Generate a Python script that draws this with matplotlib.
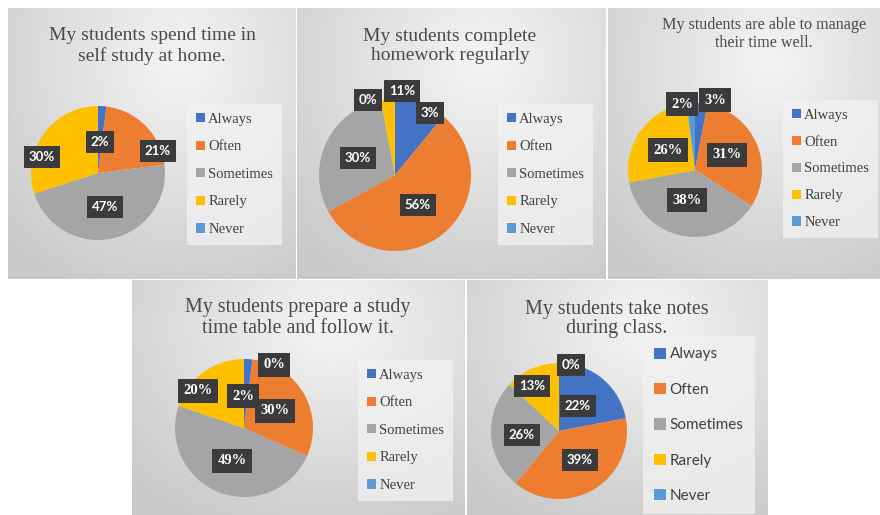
import numpy as np
import matplotlib.pyplot as plt
from matplotlib.patches import Patch

# image size in pixels (dpi 100)
W, H = 880, 515

# --- data ---
categories = ["Always", "Often", "Sometimes", "Rarely", "Never"]
colors = ["#4472C4", "#ED7D31", "#A5A5A5", "#FFC000", "#5B9BD5"]

titles = [
    "My students spend time in\nself study at home.",
    "My students complete\nhomework regularly",
    "My students are able to manage\ntheir time well.",
    "My students prepare a study\ntime table and follow it.",
    "My students take notes\nduring class.",
]

self_study = [2, 21, 47, 30, 0]
homework = [11, 56, 30, 3, 0]
time_manage = [3, 31, 38, 26, 2]
time_table = [2, 30, 49, 20, 0]
take_notes = [22, 39, 26, 13, 0]
series = [self_study, homework, time_manage, time_table, take_notes]

# --- layout (image pixels, y from top) ---
panel_boxes = [(8, 8, 296, 279), (297, 8, 606, 279), (608, 8, 880, 279),
               (132, 280, 465, 515), (467, 280, 768, 515)]
pie_centers = [(98, 173), (395, 175), (695, 170), (244, 428), (559, 431)]
pie_radii = [67, 76, 67, 69, 68]
title_pos = [(152, 46), (450, 46), (764, 34), (298, 318), (617, 319)]
title_sizes = [14, 14, 11.6, 14.4, 14.4]
title_spacing = [1.2, 1.2, 1.1, 1.15, 1.05]
legend_pos = [(187, 104), (498, 104), (783, 100), (358, 360), (643, 336)]
legend_font = ["Liberation Serif"] * 4 + ["Lato"]
legend_sizes = [10.5, 10.5, 10.5, 10.5, 11]
legend_spacing = [1.0, 1.0, 0.95, 1.0, 1.4]
legend_handle = [0.6, 0.6, 0.6, 0.6, 0.75]
legend_pad = [0.6, 0.6, 0.6, 0.6, 0.75]
label_font = ["Lato", "Lato", "Liberation Serif", "Liberation Serif", "Lato"]
label_sizes = [9.5, 9.5, 10.5, 10.5, 9.5]
# data label positions per category (None = not shown)
label_pos = [
    [(100, 142), (158, 151), (105, 207), (42, 157), None],
    [(402, 91), (418, 205), (358, 158), (430, 113), (368, 100)],
    [(715, 100), (727, 155), (687, 200), (668, 150), (682, 104)],
    [(243, 396), (275, 411), (232, 461), (198, 391), (274, 365)],
    [(578, 406), (580, 460), (522, 435), (532, 386), (571, 365)],
]


def gradient(w, h):
    yy, xx = np.mgrid[0:1:h * 1j, 0:1:w * 1j]
    d = np.sqrt(((xx - 0.6) / 0.85) ** 2 + ((yy - 0.2) / 0.95) ** 2)
    return 0.955 - 0.17 * np.clip(d, 0, 1)


fig = plt.figure(figsize=(W / 100, H / 100), dpi=100)
fig.patch.set_facecolor("white")
ax = fig.add_axes([0, 0, 1, 1])

for i in range(5):
    x0, y0, x1, y1 = panel_boxes[i]
    ax.imshow(gradient(x1 - x0, y1 - y0), cmap="gray", vmin=0, vmax=1,
              extent=(x0, x1, H - y1, H - y0), zorder=0, interpolation="bilinear")

    cx, cy = pie_centers[i]
    wedges, _ = ax.pie(series[i], colors=colors, startangle=90, counterclock=False,
                       center=(cx, H - cy), radius=pie_radii[i], frame=True,
                       wedgeprops=dict(linewidth=0))
    for w in wedges:
        w.set_zorder(2)

    tx, ty = title_pos[i]
    ax.text(tx, H - ty, titles[i], ha="center", va="center", fontsize=title_sizes[i],
            family="Liberation Serif", color="#4a4a4a", linespacing=title_spacing[i],
            zorder=5)

    for k, pos in enumerate(label_pos[i]):
        if pos is None:
            continue
        ax.text(pos[0], H - pos[1], f"{series[i][k]}%", ha="center", va="center",
                color="white", fontweight="bold", family=label_font[i],
                fontsize=label_sizes[i], zorder=6,
                bbox=dict(boxstyle="square,pad=0.35", fc="#3b3b3b", ec="none"))

    lx, ly = legend_pos[i]
    handles = [Patch(facecolor=c, edgecolor="none") for c in colors]
    leg = fig.legend(handles=handles, labels=categories, loc="upper left",
                     bbox_to_anchor=(lx / W, 1 - ly / H), borderaxespad=0,
                     frameon=True, fancybox=False, facecolor="#f2f2f2", edgecolor="none",
                     framealpha=0.75, handlelength=legend_handle[i],
                     handleheight=legend_handle[i], handletextpad=0.25,
                     labelspacing=legend_spacing[i], borderpad=legend_pad[i],
                     prop=dict(family=legend_font[i], size=legend_sizes[i]))
    for t in leg.get_texts():
        t.set_color("#404040")

ax.set_xlim(0, W)
ax.set_ylim(0, H)
ax.axis("off")

fig.savefig("out.png", dpi=100, facecolor="white")
